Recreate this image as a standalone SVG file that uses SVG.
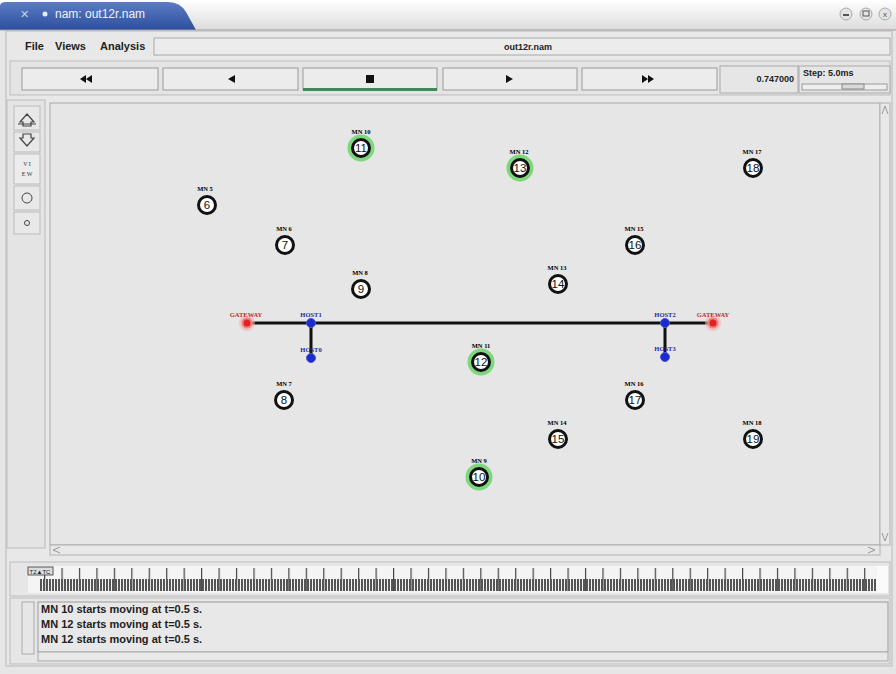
<svg xmlns="http://www.w3.org/2000/svg" width="896" height="674" viewBox="0 0 896 674">
<defs>
<style>
.ui{font-family:"Liberation Sans",Arial,sans-serif;font-weight:bold;fill:#222}
.lbl{font-family:"Liberation Serif",serif;font-size:6.5px;font-weight:bold;text-anchor:middle}
.num{font-family:"Liberation Sans",Arial,sans-serif;font-size:11.5px;text-anchor:middle;fill:#111}
.mn{fill:#fff;stroke:#111;stroke-width:3}
.halo{fill:none;stroke:#5ad25a;stroke-width:5;opacity:.75}
.btn{fill:#ececec;stroke:#9a9a9a;stroke-width:1}
.link{stroke:#111;stroke-width:3}
.host{fill:#1d2bc8;stroke:#4a58e0;stroke-width:1}
.gw{fill:#e02424;stroke:#f08080;stroke-width:2}
.hl{fill:#1d2b9a}
.gl{fill:#c22a2a}
</style>
<linearGradient id="tab" x1="0" y1="0" x2="0" y2="1"><stop offset="0" stop-color="#5b7cc4"/><stop offset="1" stop-color="#2c4f9e"/></linearGradient>
<linearGradient id="top" x1="0" y1="0" x2="0" y2="1"><stop offset="0" stop-color="#ffffff"/><stop offset="1" stop-color="#dcdcdc"/></linearGradient>
<pattern id="dense" x="40" y="0" width="3" height="20" patternUnits="userSpaceOnUse"><rect width="2" height="20" fill="#555"/></pattern>
<pattern id="ticks" x="44" y="0" width="17.45" height="40" patternUnits="userSpaceOnUse"><rect width="1.2" height="40" fill="#444"/></pattern>
</defs>

<!-- window chrome -->
<rect width="896" height="674" fill="#e6e6e6"/>
<rect width="896" height="30" fill="url(#top)"/>
<path d="M0 30 L0 6 Q0 2 6 2 L168 2 Q180 2 186 12 L196 30 Z" fill="url(#tab)"/>
<text x="20" y="18" font-family="Liberation Sans,Arial,sans-serif" font-size="11" style="fill:#c8d0e6">✕</text>
<circle cx="45" cy="14" r="2.5" fill="#e8ecf6"/>
<text x="55" y="18" font-family="Liberation Sans,Arial,sans-serif" font-size="12" fill="#eef2fb">nam: out12r.nam</text>
<circle cx="846" cy="14" r="6" fill="#e4e4e4" stroke="#aaa"/>
<circle cx="866" cy="14" r="6" fill="#e4e4e4" stroke="#aaa"/>
<circle cx="885" cy="14" r="6" fill="#e4e4e4" stroke="#aaa"/>
<rect x="843" y="14" width="6" height="2" fill="#555"/>
<rect x="863" y="11" width="6" height="5" fill="none" stroke="#555"/>
<text x="885" y="17" font-family="Liberation Sans,Arial,sans-serif" font-size="8" text-anchor="middle" fill="#555">x</text>
<line x1="0" y1="30" x2="896" y2="30" stroke="#9a9a9a"/>
<rect x="6" y="31" width="886" height="635" fill="#e8e8e8" stroke="#b8b8b8"/>

<!-- menu bar -->
<text class="ui" x="25" y="50" font-size="11">File</text>
<text class="ui" x="55" y="50" font-size="11">Views</text>
<text class="ui" x="100" y="50" font-size="11">Analysis</text>
<rect x="154" y="38" width="736" height="17" fill="#ececec" stroke="#a8a8a8"/>
<text class="ui" x="528" y="50" font-size="9" text-anchor="middle">out12r.nam</text>

<!-- button row -->
<rect x="10" y="61" width="880" height="34" fill="#e4e4e4" stroke="#bdbdbd"/>
<rect class="btn" x="22" y="68" width="136" height="22"/>
<rect class="btn" x="163" y="68" width="135" height="22"/>
<rect class="btn" x="303" y="68" width="134" height="22"/>
<rect x="303" y="88" width="134" height="3" fill="#3d8a5a"/>
<rect class="btn" x="443" y="68" width="134" height="22"/>
<rect class="btn" x="582" y="68" width="135" height="22"/>
<path d="M86 75 L80 79 L86 83 Z M92 75 L86 79 L92 83 Z" fill="#111"/>
<path d="M235 75 L228 79 L235 83 Z" fill="#111"/>
<rect x="366" y="75" width="8" height="8" fill="#111"/>
<path d="M506 75 L513 79 L506 83 Z" fill="#111"/>
<path d="M642 75 L648 79 L642 83 Z M648 75 L654 79 L648 83 Z" fill="#111"/>
<rect x="720" y="66" width="78" height="27" fill="#e6e6e6" stroke="#a8a8a8"/>
<text class="ui" x="794" y="82" font-size="9" text-anchor="end">0.747000</text>
<rect x="799" y="66" width="91" height="27" fill="#e6e6e6" stroke="#a8a8a8"/>
<text class="ui" x="803" y="76" font-size="9">Step: 5.0ms</text>
<rect x="802" y="84" width="85" height="6" fill="#eee" stroke="#999"/>
<rect x="842" y="84" width="22" height="5" fill="#d8d8d8" stroke="#888"/>

<!-- left toolbar -->
<rect x="7" y="100" width="38" height="448" fill="#e4e4e4" stroke="#bbb"/>
<rect x="14" y="106" width="26" height="24" fill="#e8e8e8" stroke="#bbb"/>
<path d="M20 122 L27 114 L34 122 L31 122 L31 126 L23 126 L23 122 Z" fill="none" stroke="#444" stroke-width="1.2"/>
<path d="M18 124 L36 124" stroke="#444"/>
<rect x="14" y="132" width="26" height="20" fill="#e8e8e8" stroke="#bbb"/>
<path d="M20 138 L27 146 L34 138 L31 138 L31 134 L23 134 L23 138 Z" fill="none" stroke="#444" stroke-width="1.2"/>
<rect x="14" y="154" width="26" height="30" fill="#ececec" stroke="#bbb"/>
<text x="27" y="166" font-family="Liberation Serif,serif" font-size="6" text-anchor="middle" fill="#333">V I</text>
<text x="27" y="176" font-family="Liberation Serif,serif" font-size="6" text-anchor="middle" fill="#333">E W</text>
<rect x="14" y="186" width="26" height="24" fill="#e8e8e8" stroke="#bbb"/>
<circle cx="27" cy="198" r="5" fill="none" stroke="#444"/>
<rect x="14" y="212" width="26" height="22" fill="#e8e8e8" stroke="#bbb"/>
<circle cx="27" cy="223" r="2.5" fill="none" stroke="#444"/>

<!-- canvas -->
<rect x="50" y="103" width="830" height="442" fill="#e6e6e6" stroke="#a8a8a8"/>
<rect x="880" y="103" width="10" height="442" fill="#e8e8e8" stroke="#b0b0b0"/>
<path d="M882 114 L885 106 L888 114" fill="none" stroke="#999"/>
<path d="M882 533 L885 541 L888 533" fill="none" stroke="#999"/>
<rect x="50" y="545" width="830" height="10" fill="#e8e8e8" stroke="#b0b0b0"/>
<path d="M60 547 L53 550 L60 553" fill="none" stroke="#999"/>
<path d="M868 547 L875 550 L868 553" fill="none" stroke="#999"/>

<!-- connectors -->
<g id="links">
<line class="link" x1="247" y1="323" x2="713" y2="323"/>
<line class="link" x1="311" y1="323" x2="311" y2="358"/>
<line class="link" x1="665" y1="323" x2="665" y2="357"/>
</g>

<!-- wired nodes -->
<g id="gateway-left"><circle cx="247" cy="323" r="8" fill="#f2b0b0" opacity=".6"/><circle class="gw" cx="247" cy="323" r="4.5"/><text class="lbl gl" x="246" y="317">GATEWAY</text></g>
<g id="host1"><circle class="host" cx="311" cy="323" r="4.5"/><text class="lbl hl" x="311" y="317">HOST1</text></g>
<g id="host0"><circle class="host" cx="311" cy="358" r="4.5"/><text class="lbl hl" x="311" y="352">HOST0</text></g>
<g id="host2"><circle class="host" cx="665" cy="323" r="4.5"/><text class="lbl hl" x="665" y="317">HOST2</text></g>
<g id="host3"><circle class="host" cx="665" cy="357" r="4.5"/><text class="lbl hl" x="665" y="351">HOST3</text></g>
<g id="gateway-right"><circle cx="713" cy="323" r="8" fill="#f2b0b0" opacity=".6"/><circle class="gw" cx="713" cy="323" r="4.5"/><text class="lbl gl" x="713" y="317">GATEWAY</text></g>

<!-- mobile nodes -->
<g id="n6"><circle class="mn" cx="207" cy="205" r="8.5"/><text class="num" x="207" y="209">6</text><text class="lbl" x="205" y="191">MN 5</text></g>
<g id="n7"><circle class="mn" cx="285" cy="245" r="8.5"/><text class="num" x="285" y="249">7</text><text class="lbl" x="284" y="231">MN 6</text></g>
<g id="n11"><circle class="halo" cx="361" cy="148" r="11"/><circle class="mn" cx="361" cy="148" r="8.5"/><text class="num" x="361" y="152">11</text><text class="lbl" x="361" y="134">MN 10</text></g>
<g id="n9"><circle class="mn" cx="361" cy="289" r="8.5"/><text class="num" x="361" y="293">9</text><text class="lbl" x="360" y="275">MN 8</text></g>
<g id="n13"><circle class="halo" cx="520" cy="168" r="11"/><circle class="mn" cx="520" cy="168" r="8.5"/><text class="num" x="520" y="172">13</text><text class="lbl" x="519" y="154">MN 12</text></g>
<g id="n18"><circle class="mn" cx="753" cy="168" r="8.5"/><text class="num" x="753" y="172">18</text><text class="lbl" x="752" y="154">MN 17</text></g>
<g id="n16"><circle class="mn" cx="635" cy="245" r="8.5"/><text class="num" x="635" y="249">16</text><text class="lbl" x="634" y="231">MN 15</text></g>
<g id="n14"><circle class="mn" cx="558" cy="284" r="8.5"/><text class="num" x="558" y="288">14</text><text class="lbl" x="557" y="270">MN 13</text></g>
<g id="n12"><circle class="halo" cx="481" cy="362" r="11"/><circle class="mn" cx="481" cy="362" r="8.5"/><text class="num" x="481" y="366">12</text><text class="lbl" x="481" y="348">MN 11</text></g>
<g id="n8"><circle class="mn" cx="284" cy="400" r="8.5"/><text class="num" x="284" y="404">8</text><text class="lbl" x="284" y="386">MN 7</text></g>
<g id="n17"><circle class="mn" cx="635" cy="400" r="8.5"/><text class="num" x="635" y="404">17</text><text class="lbl" x="634" y="386">MN 16</text></g>
<g id="n15"><circle class="mn" cx="558" cy="439" r="8.5"/><text class="num" x="558" y="443">15</text><text class="lbl" x="557" y="425">MN 14</text></g>
<g id="n19"><circle class="mn" cx="753" cy="439" r="8.5"/><text class="num" x="753" y="443">19</text><text class="lbl" x="752" y="425">MN 18</text></g>
<g id="n10"><circle class="halo" cx="479" cy="477" r="11"/><circle class="mn" cx="479" cy="477" r="8.5"/><text class="num" x="479" y="481">10</text><text class="lbl" x="479" y="463">MN 9</text></g>

<!-- timeline -->
<rect x="10" y="562" width="880" height="34" fill="#e6e6e6" stroke="#bbb"/>
<rect x="28" y="566" width="850" height="27" fill="#f4f4f4"/>
<rect x="44" y="568" width="832" height="23" fill="url(#ticks)"/>
<rect x="40" y="579" width="836" height="12" fill="url(#dense)"/>
<rect x="28" y="567" width="25" height="8" fill="#ddd" stroke="#333" stroke-width=".8"/>
<text x="40" y="574" font-family="Liberation Sans,Arial,sans-serif" font-size="6" text-anchor="middle" fill="#222">T2▲TC</text>
<rect x="877" y="566" width="11" height="27" fill="#fafafa"/>

<!-- message area -->
<rect x="10" y="598" width="880" height="66" fill="#e6e6e6" stroke="#bbb"/>
<rect x="22" y="602" width="12" height="52" fill="#e6e6e6" stroke="#aaa"/>
<rect x="38" y="602" width="850" height="50" fill="#e8e8e8" stroke="#999"/>
<text class="ui" x="41" y="613" font-size="11">MN 10 starts moving at t=0.5 s.</text>
<text class="ui" x="41" y="628" font-size="11">MN 12 starts moving at t=0.5 s.</text>
<text class="ui" x="41" y="643" font-size="11">MN 12 starts moving at t=0.5 s.</text>
<rect x="38" y="652" width="850" height="9" fill="#e8e8e8" stroke="#aaa"/>
</svg>
